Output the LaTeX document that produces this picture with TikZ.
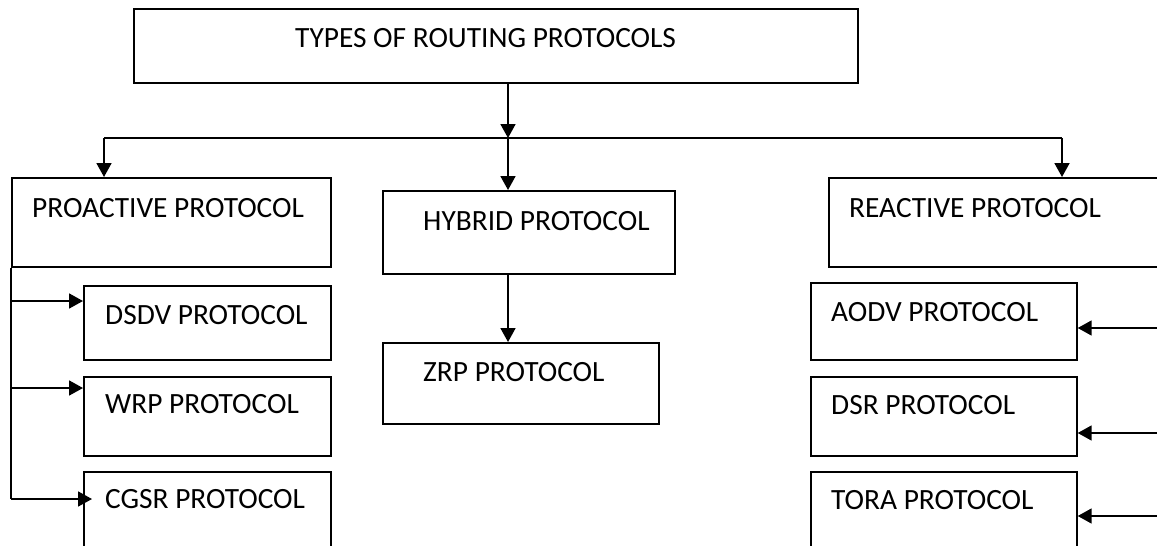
\documentclass[tikz,border=0pt]{standalone}
\usepackage{fontspec}
\setmainfont{Carlito}
\usetikzlibrary{arrows.meta}
\tikzset{
  box/.style={draw, line width=1.7pt, rectangle, inner sep=0pt, anchor=north west},
  txt/.style={anchor=base west, inner sep=0pt, font=\fontsize{29.4}{32}\selectfont},
  link/.style={line width=1.8pt},
  arr/.style={link, -{Triangle[length=14pt,width=15pt]}},
}
\begin{document}
\begin{tikzpicture}[x=1pt, y=-1pt]
\clip (0,0) rectangle (1157,546);
\fill[white] (0,0) rectangle (1157,546);

% boxes (top-left corner, size)
\node[box, minimum width=724pt, minimum height=74pt] (top)  at (133,8)   {};
\node[box, minimum width=319pt, minimum height=89pt] (pro)  at (11,177)  {};
\node[box, minimum width=247pt, minimum height=74pt] (dsdv) at (83,285)  {};
\node[box, minimum width=247pt, minimum height=79pt] (wrp)  at (83,376)  {};
\node[box, minimum width=247pt, minimum height=100pt] (cgsr) at (83,471) {};
\node[box, minimum width=292pt, minimum height=83pt] (hyb)  at (382,190) {};
\node[box, minimum width=276pt, minimum height=81pt] (zrp)  at (382,342) {};
\node[box, minimum width=360pt, minimum height=89pt] (rea)  at (828,177) {};
\node[box, minimum width=266pt, minimum height=77pt] (aodv) at (810,282) {};
\node[box, minimum width=266pt, minimum height=79pt] (dsr)  at (810,376) {};
\node[box, minimum width=266pt, minimum height=100pt] (tora) at (810,471) {};

% labels
\node[txt] (ttop)  at (295,47)  {TYPES OF ROUTING PROTOCOLS};
\node[txt] (tpro)  at (32,217)  {PROACTIVE PROTOCOL};
\node[txt] (tdsdv) at (105,324) {DSDV PROTOCOL};
\node[txt] (twrp)  at (105,413) {WRP PROTOCOL};
\node[txt] (tcgsr) at (105,508) {CGSR PROTOCOL};
\node[txt] (thyb)  at (423,230) {HYBRID PROTOCOL};
\node[txt] (tzrp)  at (423,381) {ZRP PROTOCOL};
\node[txt] (trea)  at (849,217) {REACTIVE PROTOCOL};
\node[txt] (taodv) at (831,321) {AODV PROTOCOL};
\node[txt] (tdsr)  at (831,414) {DSR PROTOCOL};
\node[txt] (ttora) at (831,509) {TORA PROTOCOL};

% branching
\coordinate (split) at (508,138);
\coordinate (bl) at (104,138);
\coordinate (br) at (1062,138);
\draw[arr] (top.south -| split) -- (split);
\draw[link] (bl) -- (br);
\draw[arr] (split) -- (hyb.north -| split);
\draw[arr] (bl) -- (pro.north -| bl);
\draw[arr] (br) -- (rea.north -| br);
\draw[arr] (hyb.south -| split) -- (zrp.north -| split);

% proactive trunk
\coordinate (l1) at (11,301);
\coordinate (l2) at (11,388);
\coordinate (l3) at (11,499);
\draw[link] (pro.south west) -- (l3);
\draw[arr] (l1) -- (dsdv.west |- l1);
\draw[arr] (l2) -- (wrp.west |- l2);
\draw[arr] (l3) -- ([xshift=9pt]cgsr.west |- l3);

% reactive feeds from the right
\coordinate (r1) at (1165,328);
\coordinate (r2) at (1165,433);
\coordinate (r3) at (1165,516);
\draw[arr] (r1) -- (aodv.east |- r1);
\draw[arr] (r2) -- (dsr.east |- r2);
\draw[arr] (r3) -- (tora.east |- r3);
\end{tikzpicture}
\end{document}
